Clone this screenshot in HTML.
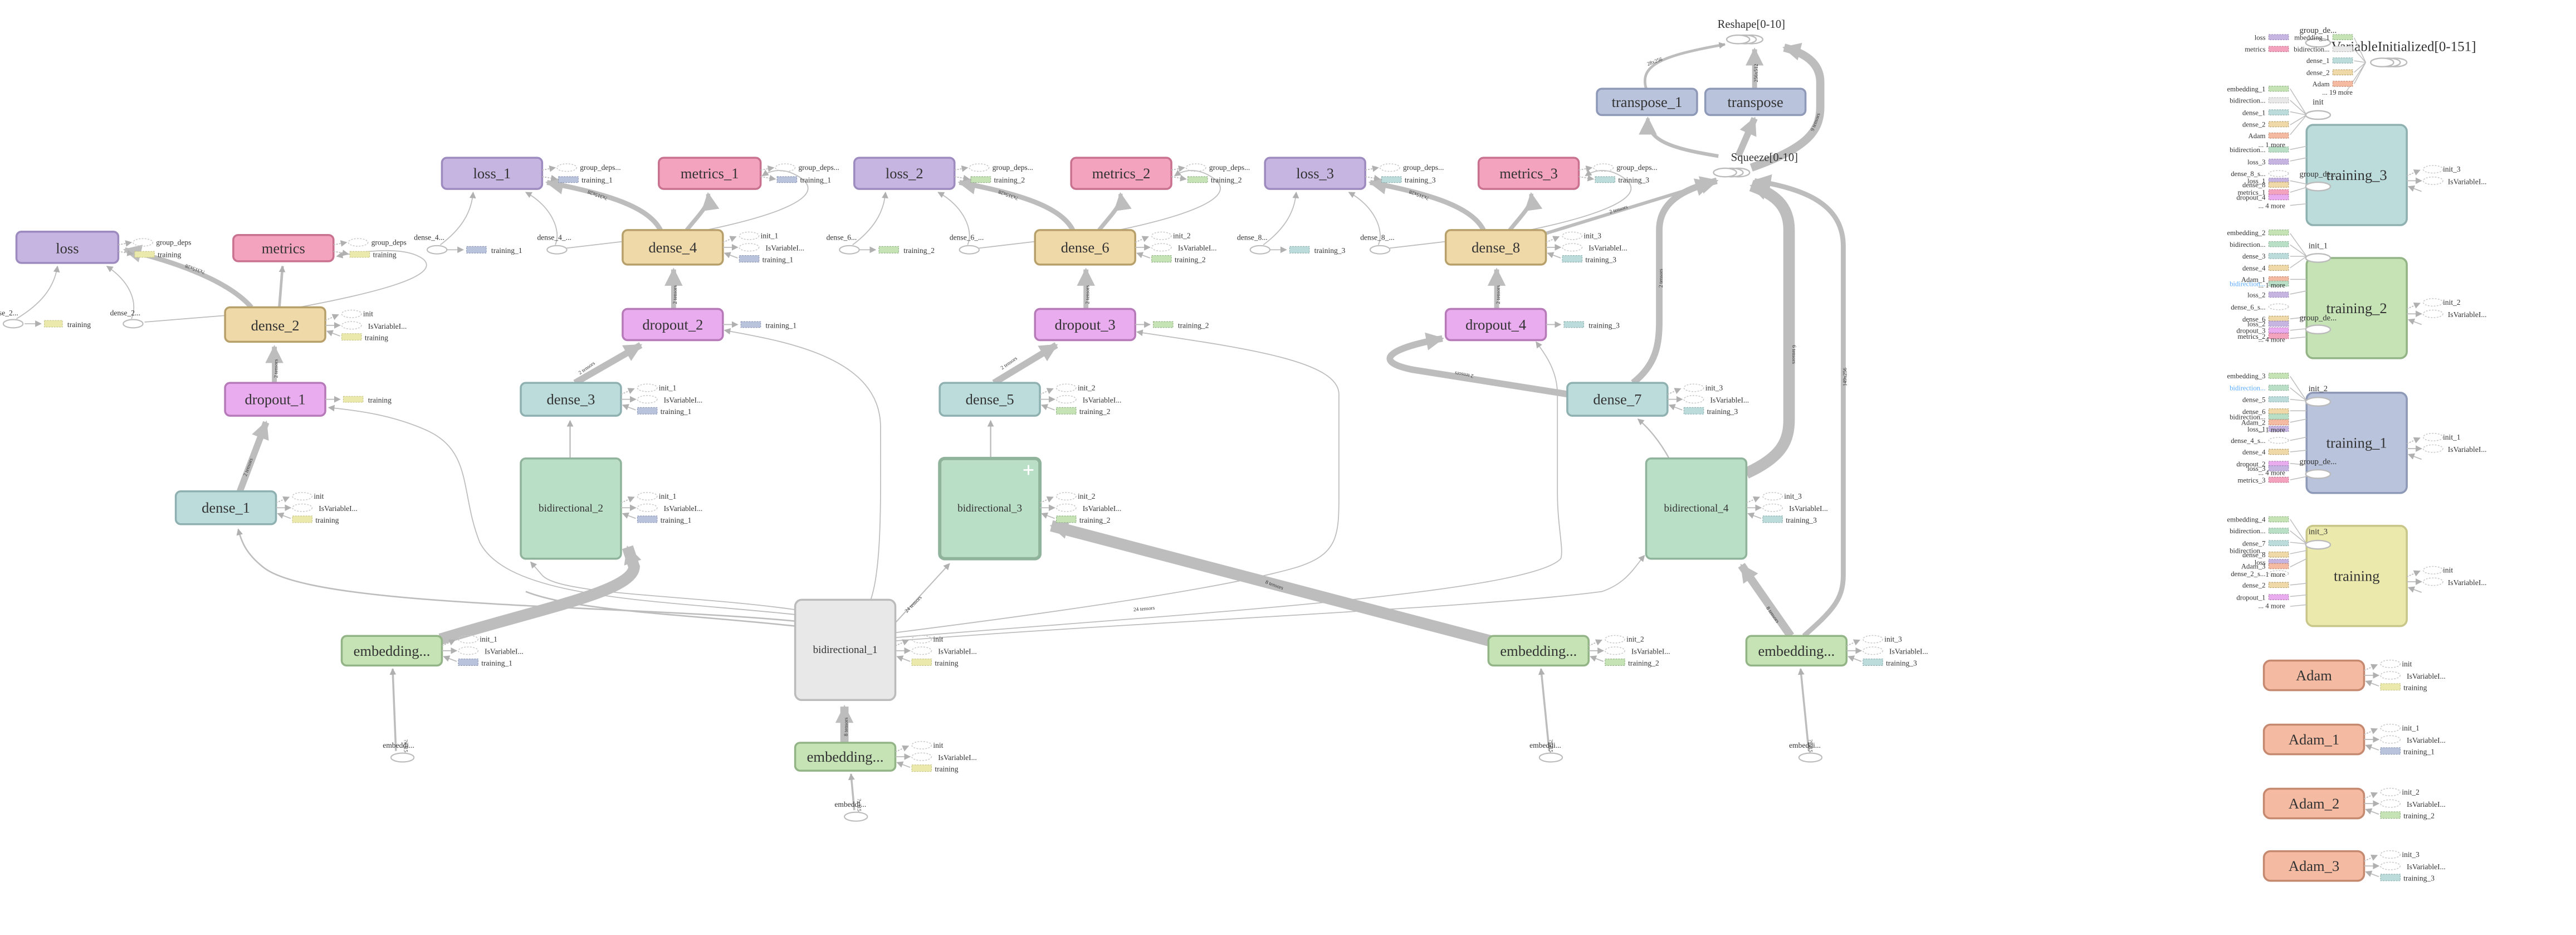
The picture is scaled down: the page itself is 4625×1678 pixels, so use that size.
<!DOCTYPE html>
<html><head><meta charset="utf-8"><style>
html,body{margin:0;padding:0;background:#fff;}
svg{display:block;}
text{font-family:"Liberation Serif",serif;fill:#333;}
.n{font-size:9px;text-anchor:middle;dominant-baseline:central;}
.nb{font-size:6.5px;text-anchor:middle;dominant-baseline:central;}
.s{font-size:4.6px;fill:#222;}
.r{font-size:4.3px;fill:#222;text-anchor:end;}
.el{font-size:3.2px;fill:#777;}
.e{fill:none;stroke:#bdbdbd;}
.de{fill:none;stroke:#c8c8c8;stroke-width:.5;stroke-dasharray:1,.8;}
.rk{stroke-width:.4;stroke-dasharray:1,.6;}
.ty{fill:#ebe9ab;stroke:#c9c68a;} .tb{fill:#b9c3dc;stroke:#8e99b8;} .tg{fill:#c5e3b5;stroke:#93b486;} .tt{fill:#bcdcdc;stroke:#8fb0b0;}
.cp{fill:#c6b5e1;stroke:#9d8bbf;} .cm{fill:#f4a3bf;stroke:#c8728f;} .cn{fill:#efd9a9;stroke:#b8a06b;} .cv{fill:#e9acee;stroke:#b77ab9;} .cs{fill:#f5bba2;stroke:#c58970;} .cx{fill:#e8e8e8;stroke:#bbb;} .cg{fill:#badfc7;stroke:#8fb39b;}
.nd{stroke-width:1.2;}
</style></head><body>
<svg width="4625" height="1678" viewBox="0 0 1568 569" preserveAspectRatio="none" xmlns="http://www.w3.org/2000/svg">
<defs>
<marker id="s" viewBox="0 0 10 10" refX="9" refY="5" markerWidth="4" markerHeight="4" markerUnits="userSpaceOnUse" orient="auto"><path d="M0,0L10,5L0,10z" fill="#b0b0b0"/></marker>
<marker id="L" viewBox="0 0 10 10" refX="9" refY="5" markerWidth="11" markerHeight="11" markerUnits="userSpaceOnUse" orient="auto"><path d="M0,0L10,5L0,10z" fill="#bdbdbd"/></marker>
<g id="a3">
<path d="M0,-3 L8,-6.5" stroke="#bbb" stroke-width=".6" stroke-dasharray="1,.7" marker-end="url(#s)"/>
<path d="M0,0 L9,0" stroke="#bbb" stroke-width=".6" marker-end="url(#s)"/>
<path d="M9,6.5 L1,3.5" stroke="#bbb" stroke-width=".6" marker-end="url(#s)"/>
<ellipse cx="16" cy="-7" rx="6" ry="2.3" class="de"/>
<ellipse cx="16" cy="0" rx="6" ry="2.3" class="de"/>
</g>
<g id="a2">
<path d="M0,-2 L8,-3.5" stroke="#bbb" stroke-width=".6" stroke-dasharray="1,.7" marker-end="url(#s)"/>
<path d="M0,2 L9,3.5" stroke="#bbb" stroke-width=".6" stroke-dasharray="1,.7" marker-end="url(#s)"/>
<ellipse cx="15" cy="-3.5" rx="6" ry="2.3" class="de"/>
</g>
<g id="a1"><path d="M0,0 L9,0" stroke="#bbb" stroke-width=".6" marker-end="url(#s)"/></g>
</defs>

<!-- ============ EDGES ============ -->
<g class="e">
<!-- left group -->
<path d="M146,299 L162,257" stroke-width="4" marker-end="url(#L)"/>
<path d="M167,233 L167,211" stroke-width="3" marker-end="url(#L)"/>
<path d="M153,187 C140,172 110,160 76,152" stroke-width="3" marker-end="url(#L)"/>
<path d="M170,187 L172,162" stroke-width="1.6" marker-end="url(#s)"/>
<path d="M182,187 C230,178 268,168 258,158 C248,150 225,152 205,156" stroke-width=".6" marker-end="url(#s)"/>
<path d="M10,194 C25,185 33,175 35,162" stroke-width=".6" marker-end="url(#s)"/>
<path d="M80,194 C84,185 80,172 65,162" stroke-width=".6" marker-end="url(#s)"/>
<path d="M88,196 L137,192" stroke-width=".6"/>
<path d="M15,197 L25,197" stroke-width=".6" marker-end="url(#s)"/>
<!-- bidir_1 to left things -->
<path d="M484,378 C380,368 190,370 160,345 C150,337 147,330 145,322" stroke-width=".9" marker-end="url(#s)"/>
<path d="M484,381 C420,374 350,372 320,360" stroke-width=".9"/>
<path d="M484,374 C400,365 310,365 292,330 C280,300 288,275 260,262 C240,253 220,250 200,248" stroke-width=".6" marker-end="url(#s)"/>
<path d="M484,371 C420,362 340,362 330,350 L323,342" stroke-width=".6" marker-end="url(#s)"/>
<path d="M530,365 C537,345 536,300 536,260 C536,218 480,208 441,201" stroke-width=".6" marker-end="url(#s)"/>
<path d="M545,385 C600,378 740,360 790,345 C815,337 815,325 815,300 L815,240 C815,220 760,212 692,202" stroke-width=".6" marker-end="url(#s)"/>
<path d="M545,379 L578,343" stroke-width=".7" marker-end="url(#s)"/>
<path d="M545,388 C700,375 930,362 950,340 C952,335 948,320 948,300 L948,240 C948,225 940,215 935,208" stroke-width=".6" marker-end="url(#s)"/>
<path d="M545,390 C700,378 900,370 975,360 C990,355 995,345 1001,338" stroke-width=".6" marker-end="url(#s)"/>
<!-- embeddings -->
<path d="M268,389 C330,370 385,360 386,345 L382,333" stroke-width="7" marker-end="url(#L)"/>
<path d="M514,452 L514,430" stroke-width="5" marker-end="url(#L)"/>
<path d="M907,390 L640,320" stroke-width="7" marker-end="url(#L)"/>
<path d="M1090,387 L1060,344" stroke-width="5" marker-end="url(#L)"/>
<path d="M1098,387 C1115,372 1122,365 1122,350 L1122,150 C1122,125 1100,115 1068,110" stroke-width="3" marker-end="url(#L)"/>
<path d="M241,457 L239,407" stroke-width="1.2" marker-end="url(#s)"/>
<path d="M520,493 L518,471" stroke-width="1.2" marker-end="url(#s)"/>
<path d="M943,457 L938,407" stroke-width="1.2" marker-end="url(#s)"/>
<path d="M1101,457 L1096,407" stroke-width="1.2" marker-end="url(#s)"/>
<!-- bidir to dense -->
<path d="M347,279 L347,256" stroke-width=".8" marker-end="url(#s)"/>
<path d="M603,279 L603,256" stroke-width=".8" marker-end="url(#s)"/>
<path d="M1016,279 C1010,268 1003,260 997,255" stroke-width=".8" marker-end="url(#s)"/>
<path d="M350,233 L390,210" stroke-width="4" marker-end="url(#L)"/>
<path d="M605,233 L643,210" stroke-width="4" marker-end="url(#L)"/>
<path d="M955,240 L860,225 C835,220 845,212 878,206" stroke-width="4" marker-end="url(#L)"/>
<!-- squeeze region -->
<path d="M994,233 C1008,222 1010,210 1010,195 L1010,140 C1010,120 1030,114 1045,110" stroke-width="4" marker-end="url(#L)"/>
<path d="M1063,288 C1085,278 1089,268 1089,255 L1089,140 C1089,125 1080,118 1066,113" stroke-width="7" marker-end="url(#L)"/>
<path d="M941,142 L1042,111" stroke-width="2" marker-end="url(#L)"/>
<path d="M1046,95 C1015,90 1003,85 1003,72" stroke-width="2.2" marker-end="url(#L)"/>
<path d="M1058,95 L1068,72" stroke-width="4" marker-end="url(#L)"/>
<path d="M1066,102 C1100,90 1108,80 1108,65 L1108,50 C1108,38 1098,32 1086,29" stroke-width="5" marker-end="url(#L)"/>
<path d="M1002,54 C998,40 1010,34 1050,27" stroke-width="1.6" marker-end="url(#s)"/>
<path d="M1068,54 L1068,30" stroke-width="3" marker-end="url(#L)"/>
</g>

<!-- top groups (x3) -->
<g id="g1" class="e">
<path d="M410,188 L410,164" stroke-width="3" marker-end="url(#L)"/>
<path d="M402,140 C395,126 370,118 333,111" stroke-width="3" marker-end="url(#L)"/>
<path d="M418,140 C426,130 432,125 431,118" stroke-width="2.5" marker-end="url(#L)"/>
<path d="M425,141 C470,132 505,120 487,108 C478,102 470,103 464,107" stroke-width=".6" marker-end="url(#s)"/>
<path d="M268,149 C280,140 287,130 288,117" stroke-width=".6" marker-end="url(#s)"/>
<path d="M272,152 L282,152" stroke-width=".6" marker-end="url(#s)"/>
<path d="M338,149 C342,140 335,125 320,117" stroke-width=".6" marker-end="url(#s)"/>
<path d="M345,151 L379,147" stroke-width=".6"/>
</g>
<use href="#g1" x="251"/>
<use href="#g1" x="501"/>

<!-- ============ NODES ============ -->
<g class="nd">
<rect x="10" y="141" width="62" height="19" rx="3" class="cp"/>
<rect x="142" y="143" width="61" height="16" rx="3" class="cm"/>
<rect x="137" y="187" width="61" height="21" rx="3" class="cn"/>
<rect x="137" y="233" width="61" height="20" rx="3" class="cv"/>
<rect x="107" y="299" width="61" height="20" rx="3" class="tt"/>
<rect x="269" y="96" width="61" height="19" rx="3" class="cp"/>
<rect x="401" y="96" width="62" height="19" rx="3" class="cm"/>
<rect x="379" y="140" width="61" height="21" rx="3" class="cn"/>
<rect x="379" y="188" width="61" height="19" rx="3" class="cv"/>
<rect x="317" y="233" width="61" height="20" rx="3" class="tt"/>
<rect x="317" y="279" width="61" height="61" rx="3" class="cg"/>
<rect x="520" y="96" width="61" height="19" rx="3" class="cp"/>
<rect x="652" y="96" width="61" height="19" rx="3" class="cm"/>
<rect x="630" y="140" width="61" height="21" rx="3" class="cn"/>
<rect x="630" y="188" width="61" height="19" rx="3" class="cv"/>
<rect x="572" y="233" width="61" height="20" rx="3" class="tt"/>
<rect x="572" y="279" width="61" height="61" rx="3" class="cg" stroke-width="2" stroke="#7a9b85"/>
<rect x="770" y="96" width="61" height="19" rx="3" class="cp"/>
<rect x="900" y="96" width="61" height="19" rx="3" class="cm"/>
<rect x="880" y="140" width="61" height="21" rx="3" class="cn"/>
<rect x="880" y="188" width="61" height="19" rx="3" class="cv"/>
<rect x="954" y="233" width="61" height="20" rx="3" class="tt"/>
<rect x="1002" y="279" width="61" height="61" rx="3" class="cg"/>
<rect x="484" y="365" width="61" height="61" rx="4" class="cx"/>
<rect x="208" y="387" width="61" height="18" rx="3" class="tg"/>
<rect x="484" y="452" width="61" height="17" rx="3" class="tg"/>
<rect x="906" y="387" width="61" height="18" rx="3" class="tg"/>
<rect x="1063" y="387" width="61" height="18" rx="3" class="tg"/>
<rect x="972" y="54" width="61" height="16" rx="3" class="tb"/>
<rect x="1038" y="54" width="61" height="16" rx="3" class="tb"/>
<rect x="1404" y="76" width="61" height="61" rx="4" class="tt"/>
<rect x="1404" y="157" width="61" height="61" rx="4" class="tg"/>
<rect x="1404" y="239" width="61" height="61" rx="4" class="tb"/>
<rect x="1404" y="320" width="61" height="61" rx="4" class="ty"/>
<rect x="1378" y="402" width="61" height="18" rx="4" class="cs"/>
<rect x="1378" y="441" width="61" height="18" rx="4" class="cs"/>
<rect x="1378" y="480" width="61" height="18" rx="4" class="cs"/>
<rect x="1378" y="518" width="61" height="18" rx="4" class="cs"/>
</g>
<path d="M626,283 L626,289 M623,286 L629,286" stroke="#fff" stroke-width="1"/>

<g>
<text class="n" x="41" y="151">loss</text>
<text class="n" x="172.5" y="151">metrics</text>
<text class="n" x="167.5" y="198">dense_2</text>
<text class="n" x="167.5" y="243">dropout_1</text>
<text class="n" x="137.5" y="309">dense_1</text>
<text class="n" x="299.5" y="105.5">loss_1</text>
<text class="n" x="432" y="105.5">metrics_1</text>
<text class="n" x="409.5" y="150.5">dense_4</text>
<text class="n" x="409.5" y="197.5">dropout_2</text>
<text class="n" x="347.5" y="243">dense_3</text>
<text class="nb" x="347.5" y="309.5">bidirectional_2</text>
<text class="n" x="550.5" y="105.5">loss_2</text>
<text class="n" x="682.5" y="105.5">metrics_2</text>
<text class="n" x="660.5" y="150.5">dense_6</text>
<text class="n" x="660.5" y="197.5">dropout_3</text>
<text class="n" x="602.5" y="243">dense_5</text>
<text class="nb" x="602.5" y="309.5">bidirectional_3</text>
<text class="n" x="800.5" y="105.5">loss_3</text>
<text class="n" x="930.5" y="105.5">metrics_3</text>
<text class="n" x="910.5" y="150.5">dense_8</text>
<text class="n" x="910.5" y="197.5">dropout_4</text>
<text class="n" x="984.5" y="243">dense_7</text>
<text class="nb" x="1032.5" y="309.5">bidirectional_4</text>
<text class="nb" x="514.5" y="395.5">bidirectional_1</text>
<text class="n" x="238.5" y="396">embedding...</text>
<text class="n" x="514.5" y="460.5">embedding...</text>
<text class="n" x="936.5" y="396">embedding...</text>
<text class="n" x="1093.5" y="396">embedding...</text>
<text class="n" x="1002.5" y="62">transpose_1</text>
<text class="n" x="1068.5" y="62">transpose</text>
<text class="n" x="1434.5" y="106.5">training_3</text>
<text class="n" x="1434.5" y="187.5">training_2</text>
<text class="n" x="1434.5" y="269.5">training_1</text>
<text class="n" x="1434.5" y="350.5">training</text>
<text class="n" x="1408.5" y="411">Adam</text>
<text class="n" x="1408.5" y="450">Adam_1</text>
<text class="n" x="1408.5" y="489">Adam_2</text>
<text class="n" x="1408.5" y="527">Adam_3</text>
</g>

<!-- Squeeze / Reshape -->
<g fill="none" stroke="#bbb" stroke-width=".8">
<ellipse cx="1062" cy="24" rx="7" ry="2.6"/><ellipse cx="1066" cy="24" rx="7" ry="2.6"/><ellipse cx="1058" cy="24" rx="7" ry="2.6" fill="#fff"/>
<ellipse cx="1058" cy="105" rx="7" ry="2.6"/><ellipse cx="1054" cy="105" rx="7" ry="2.6"/><ellipse cx="1050" cy="105" rx="7" ry="2.6" fill="#fff"/>
<ellipse cx="1458" cy="38" rx="7" ry="2.6"/><ellipse cx="1454" cy="38" rx="7" ry="2.6"/><ellipse cx="1450" cy="38" rx="7" ry="2.6" fill="#fff"/>
</g>
<text x="1066" y="17" style="font-size:7px;text-anchor:middle">Reshape[0-10]</text>
<text x="1074" y="98" style="font-size:7px;text-anchor:middle">Squeeze[0-10]</text>
<text x="1419" y="31" style="font-size:8.5px">VariableInitialized[0-151]</text>

<!-- loss input ellipses -->
<g fill="#fff" stroke="#bbb" stroke-width=".7">
<ellipse cx="8" cy="197" rx="6" ry="2.5"/><ellipse cx="81" cy="197" rx="6" ry="2.5"/>
<ellipse cx="266" cy="152" rx="6" ry="2.5"/><ellipse cx="339" cy="152" rx="6" ry="2.5"/>
<ellipse cx="517" cy="152" rx="6" ry="2.5"/><ellipse cx="590" cy="152" rx="6" ry="2.5"/>
<ellipse cx="767" cy="152" rx="6" ry="2.5"/><ellipse cx="840" cy="152" rx="6" ry="2.5"/>
<ellipse cx="245" cy="461" rx="7" ry="2.7"/><ellipse cx="521" cy="497" rx="7" ry="2.7"/>
<ellipse cx="944" cy="461" rx="7" ry="2.7"/><ellipse cx="1102" cy="461" rx="7" ry="2.7"/>
</g>
<g class="s">
<text x="-3" y="192">nse_2...</text><text x="67" y="192">dense_2...</text>
<text x="252" y="146">dense_4...</text><text x="327" y="146">dense_4_...</text>
<text x="503" y="146">dense_6...</text><text x="578" y="146">dense_6_...</text>
<text x="753" y="146">dense_8...</text><text x="828" y="146">dense_8_...</text>
<text x="233" y="455">embeddi...</text><text x="508" y="491">embeddi...</text>
<text x="931" y="455">embeddi...</text><text x="1089" y="455">embeddi...</text>
</g>
<g class="rk">
<rect x="27" y="195" width="11" height="4" class="ty"/>
<rect x="284" y="150" width="12" height="4" class="tb"/>
<rect x="535" y="150" width="12" height="4" class="tg"/>
<rect x="785" y="150" width="12" height="4" class="tt"/>
</g>
<g class="s"><text x="41" y="199">training</text><text x="299" y="154">training_1</text><text x="550" y="154">training_2</text><text x="800" y="154">training_3</text></g>

<!-- annotations 3-row -->
<use href="#a3" x="168" y="309"/><use href="#a3" x="198" y="198"/>
<use href="#a3" x="378" y="243"/><use href="#a3" x="378" y="309"/><use href="#a3" x="440" y="150.5"/>
<use href="#a3" x="633" y="243"/><use href="#a3" x="633" y="309"/><use href="#a3" x="691" y="150.5"/>
<use href="#a3" x="1015" y="243"/><use href="#a3" x="1063" y="309"/><use href="#a3" x="941" y="150.5"/>
<use href="#a3" x="545" y="396"/><use href="#a3" x="269" y="396"/><use href="#a3" x="545" y="460.5"/>
<use href="#a3" x="967" y="396"/><use href="#a3" x="1124" y="396"/>
<use href="#a3" x="1439" y="411"/><use href="#a3" x="1439" y="450"/><use href="#a3" x="1439" y="489"/><use href="#a3" x="1439" y="527"/>
<use href="#a3" x="1465" y="110"/><use href="#a3" x="1465" y="191"/><use href="#a3" x="1465" y="273"/><use href="#a3" x="1465" y="354"/>
<g class="rk">
<rect x="178" y="314" width="12" height="4" class="ty"/><rect x="208" y="203" width="12" height="4" class="ty"/>
<rect x="388" y="248" width="12" height="4" class="tb"/><rect x="388" y="314" width="12" height="4" class="tb"/><rect x="450" y="155.5" width="12" height="4" class="tb"/>
<rect x="643" y="248" width="12" height="4" class="tg"/><rect x="643" y="314" width="12" height="4" class="tg"/><rect x="701" y="155.5" width="12" height="4" class="tg"/>
<rect x="1025" y="248" width="12" height="4" class="tt"/><rect x="1073" y="314" width="12" height="4" class="tt"/><rect x="951" y="155.5" width="12" height="4" class="tt"/>
<rect x="555" y="401" width="12" height="4" class="ty"/><rect x="279" y="401" width="12" height="4" class="tb"/><rect x="555" y="465.5" width="12" height="4" class="ty"/>
<rect x="977" y="401" width="12" height="4" class="tg"/><rect x="1134" y="401" width="12" height="4" class="tt"/>
<rect x="1449" y="416" width="12" height="4" class="ty"/><rect x="1449" y="455" width="12" height="4" class="tb"/><rect x="1449" y="494" width="12" height="4" class="tg"/><rect x="1449" y="532" width="12" height="4" class="tt"/>
</g>
<g class="s">
<text x="191" y="303.5">init</text><text x="194" y="311">IsVariableI...</text><text x="192" y="318">training</text>
<text x="221" y="192.5">init</text><text x="224" y="200">IsVariableI...</text><text x="222" y="207">training</text>
<text x="401" y="237.5">init_1</text><text x="404" y="245">IsVariableI...</text><text x="402" y="252">training_1</text>
<text x="401" y="303.5">init_1</text><text x="404" y="311">IsVariableI...</text><text x="402" y="318">training_1</text>
<text x="463" y="145">init_1</text><text x="466" y="152.5">IsVariableI...</text><text x="464" y="159.5">training_1</text>
<text x="656" y="237.5">init_2</text><text x="659" y="245">IsVariableI...</text><text x="657" y="252">training_2</text>
<text x="656" y="303.5">init_2</text><text x="659" y="311">IsVariableI...</text><text x="657" y="318">training_2</text>
<text x="714" y="145">init_2</text><text x="717" y="152.5">IsVariableI...</text><text x="715" y="159.5">training_2</text>
<text x="1038" y="237.5">init_3</text><text x="1041" y="245">IsVariableI...</text><text x="1039" y="252">training_3</text>
<text x="1086" y="303.5">init_3</text><text x="1089" y="311">IsVariableI...</text><text x="1087" y="318">training_3</text>
<text x="964" y="145">init_3</text><text x="967" y="152.5">IsVariableI...</text><text x="965" y="159.5">training_3</text>
<text x="568" y="390.5">init</text><text x="571" y="398">IsVariableI...</text><text x="569" y="405">training</text>
<text x="292" y="390.5">init_1</text><text x="295" y="398">IsVariableI...</text><text x="293" y="405">training_1</text>
<text x="568" y="455">init</text><text x="571" y="462.5">IsVariableI...</text><text x="569" y="469.5">training</text>
<text x="990" y="390.5">init_2</text><text x="993" y="398">IsVariableI...</text><text x="991" y="405">training_2</text>
<text x="1147" y="390.5">init_3</text><text x="1150" y="398">IsVariableI...</text><text x="1148" y="405">training_3</text>
<text x="1462" y="405.5">init</text><text x="1465" y="413">IsVariableI...</text><text x="1463" y="420">training</text>
<text x="1462" y="444.5">init_1</text><text x="1465" y="452">IsVariableI...</text><text x="1463" y="459">training_1</text>
<text x="1462" y="483.5">init_2</text><text x="1465" y="491">IsVariableI...</text><text x="1463" y="498">training_2</text>
<text x="1462" y="521.5">init_3</text><text x="1465" y="529">IsVariableI...</text><text x="1463" y="536">training_3</text>
<text x="1487" y="104.5">init_3</text><text x="1490" y="112">IsVariableI...</text>
<text x="1487" y="185.5">init_2</text><text x="1490" y="193">IsVariableI...</text>
<text x="1487" y="267.5">init_1</text><text x="1490" y="275">IsVariableI...</text>
<text x="1487" y="348.5">init</text><text x="1490" y="356">IsVariableI...</text>
</g>

<!-- 2-row annotations (loss/metrics) -->
<use href="#a2" x="72" y="151"/><use href="#a2" x="203" y="151"/>
<use href="#a2" x="330" y="105.5"/><use href="#a2" x="463" y="105.5"/>
<use href="#a2" x="581" y="105.5"/><use href="#a2" x="713" y="105.5"/>
<use href="#a2" x="831" y="105.5"/><use href="#a2" x="961" y="105.5"/>
<g class="rk">
<rect x="82" y="153" width="12" height="3.6" class="ty"/><rect x="213" y="153" width="12" height="3.6" class="ty"/>
<rect x="340" y="107.5" width="12" height="3.6" class="tb"/><rect x="473" y="107.5" width="12" height="3.6" class="tb"/>
<rect x="591" y="107.5" width="12" height="3.6" class="tg"/><rect x="723" y="107.5" width="12" height="3.6" class="tg"/>
<rect x="841" y="107.5" width="12" height="3.6" class="tt"/><rect x="971" y="107.5" width="12" height="3.6" class="tt"/>
</g>
<g class="s">
<text x="95" y="149">group_deps</text><text x="96" y="156.5">training</text>
<text x="226" y="149">group_deps</text><text x="227" y="156.5">training</text>
<text x="353" y="103.5">group_deps...</text><text x="354" y="111">training_1</text>
<text x="486" y="103.5">group_deps...</text><text x="487" y="111">training_1</text>
<text x="604" y="103.5">group_deps...</text><text x="605" y="111">training_2</text>
<text x="736" y="103.5">group_deps...</text><text x="737" y="111">training_2</text>
<text x="854" y="103.5">group_deps...</text><text x="855" y="111">training_3</text>
<text x="984" y="103.5">group_deps...</text><text x="985" y="111">training_3</text>
</g>

<!-- dropout annotations -->
<use href="#a1" x="198" y="243"/><use href="#a1" x="440" y="197.5"/><use href="#a1" x="691" y="197.5"/><use href="#a1" x="941" y="197.5"/>
<g class="rk">
<rect x="209" y="241.2" width="12" height="3.6" class="ty"/><rect x="451" y="195.7" width="12" height="3.6" class="tb"/>
<rect x="702" y="195.7" width="12" height="3.6" class="tg"/><rect x="952" y="195.7" width="12" height="3.6" class="tt"/>
</g>
<g class="s"><text x="224" y="245">training</text><text x="466" y="199.5">training_1</text><text x="717" y="199.5">training_2</text><text x="967" y="199.5">training_3</text></g>

<!-- edge labels -->
<g class="el">
<text x="1003" y="40" transform="rotate(-20 1003 40)">28x256</text>
<text x="1070" y="50" transform="rotate(-90 1070 50)">256x512</text>
<text x="1104" y="80" transform="rotate(-70 1104 80)">9 tensors</text>
<text x="1012" y="175" transform="rotate(-90 1012 175)">2 tensors</text>
<text x="1091" y="210" transform="rotate(90 1091 210)">6 tensors</text>
<text x="1124" y="235" transform="rotate(-90 1124 235)">149x256</text>
<text x="980" y="130" transform="rotate(-17 980 130)">2 tensors</text>
<text x="1075" y="370" transform="rotate(55 1075 370)">8 tensors</text>
<text x="770" y="355" transform="rotate(20 770 355)">8 tensors</text>
<text x="897" y="228" transform="rotate(190 897 228)">2 tensors</text>
<text x="516" y="448" transform="rotate(-90 516 448)">8 tensors</text>
<text x="552" y="373" transform="rotate(-45 552 373)">24 tensors</text>
<text x="690" y="372" transform="rotate(-5 690 372)">24 tensors</text>
<text x="150" y="290" transform="rotate(-70 150 290)">2 tensors</text>
<text x="169" y="230" transform="rotate(-90 169 230)">2 tensors</text>
<text x="412" y="185" transform="rotate(-90 412 185)">2 tensors</text>
<text x="663" y="185" transform="rotate(-90 663 185)">2 tensors</text>
<text x="913" y="185" transform="rotate(-90 913 185)">2 tensors</text>
<text x="610" y="225" transform="rotate(-35 610 225)">2 tensors</text>
<text x="353" y="228" transform="rotate(-35 353 228)">2 tensors</text>
<text x="125" y="165" transform="rotate(200 125 165)">?x315x28</text>
<text x="370" y="120" transform="rotate(200 370 120)">?x315x28</text>
<text x="620" y="120" transform="rotate(200 620 120)">?x315x28</text>
<text x="870" y="120" transform="rotate(200 870 120)">?x315x28</text>
<text x="246" y="450" transform="rotate(90 246 450)">?x315</text>
<text x="522" y="486" transform="rotate(90 522 486)">?x315</text>
<text x="943" y="450" transform="rotate(90 943 450)">?x315</text>
<text x="1101" y="450" transform="rotate(90 1101 450)">?x315</text>
</g>

<!-- ============ RIGHT PANEL LISTS ============ -->
<g class="e" stroke-width=".5">
<path d="M1433,23 L1440,38 M1433,30 L1440,38 M1433,37 L1440,38 M1433,44 L1440,38 M1433,51 L1440,38 M1428,56 L1440,38"/>
<path d="M1394,54 L1404,70 M1394,61 L1404,70 M1394,68 L1404,70 M1394,76 L1404,70 M1394,82 L1404,70 M1394,91 L1404,89 M1394,98 L1404,96 M1394,110 L1404,112 M1394,117 L1404,114 M1394,125 L1404,124"/>
<path d="M1394,142 L1404,156 M1394,149 L1404,156 M1394,156 L1404,156 M1394,163 L1404,156 M1394,170 L1404,170 M1394,179 L1404,177 M1394,194 L1404,193 M1394,201 L1404,200 M1394,206 L1404,205"/>
<path d="M1394,229 L1404,244 M1394,236 L1404,244 M1394,243 L1404,244 M1394,250 L1404,250 M1394,257 L1404,255 M1394,268 L1404,266 M1394,275 L1404,274 M1394,282 L1404,283 M1394,292 L1404,290"/>
<path d="M1394,316 L1404,331 M1394,323 L1404,331 M1394,330 L1404,331 M1394,337 L1404,335 M1394,345 L1404,340 M1394,356 L1404,355 M1394,363 L1404,362 M1394,369 L1404,368"/>
</g>
<g fill="#fff" stroke="#bbb" stroke-width=".8">
<ellipse cx="1411" cy="26" rx="7.5" ry="2.6"/>
<ellipse cx="1411" cy="70" rx="7.5" ry="2.6"/><ellipse cx="1411" cy="113.5" rx="7.5" ry="2.6"/>
<ellipse cx="1411" cy="157" rx="7.5" ry="2.6"/><ellipse cx="1411" cy="200.5" rx="7.5" ry="2.6"/>
<ellipse cx="1411" cy="244.5" rx="7.5" ry="2.6"/><ellipse cx="1411" cy="288.5" rx="7.5" ry="2.6"/>
<ellipse cx="1411" cy="331.5" rx="7.5" ry="2.6"/>
</g>
<g class="s" style="text-anchor:middle;font-size:5px">
<text x="1411" y="20">group_de...</text>
<text x="1411" y="63.5">init</text><text x="1411" y="107.5">group_de...</text>
<text x="1411" y="151">init_1</text><text x="1411" y="195">group_de...</text>
<text x="1411" y="238">init_2</text><text x="1411" y="282.5">group_de...</text>
<text x="1411" y="325">init_3</text>
</g>
<g class="rk">
<rect x="1381" y="21" width="12" height="3.2" class="cp"/><rect x="1381" y="28.2" width="12" height="3.2" class="cm"/>
<rect x="1420" y="21" width="12" height="3.2" class="tg"/><rect x="1420" y="28.2" width="12" height="3.2" class="cx"/>
<rect x="1420" y="35.2" width="12" height="3.2" class="tt"/><rect x="1420" y="42.4" width="12" height="3.2" class="cn"/>
<rect x="1420" y="49.4" width="12" height="3.2" class="cs"/>

<rect x="1381" y="52.4" width="12" height="3.2" class="tg"/><rect x="1381" y="59.4" width="12" height="3.2" class="cx"/>
<rect x="1381" y="66.8" width="12" height="3.2" class="tt"/><rect x="1381" y="74" width="12" height="3.2" class="cn"/>
<rect x="1381" y="80.9" width="12" height="3.2" class="cs"/><rect x="1381" y="89.4" width="12" height="3.2" class="cg"/>
<rect x="1381" y="96.8" width="12" height="3.2" class="cp"/><rect x="1381" y="108.4" width="12" height="3.2" class="cp"/>
<rect x="1381" y="110.8" width="12" height="3.2" class="cn"/><rect x="1381" y="115.4" width="12" height="3.2" class="cm"/>
<rect x="1381" y="118.4" width="12" height="3.2" class="cv"/>

<rect x="1381" y="139.9" width="12" height="3.2" class="tg"/><rect x="1381" y="147" width="12" height="3.2" class="cg"/>
<rect x="1381" y="154.2" width="12" height="3.2" class="tt"/><rect x="1381" y="161.4" width="12" height="3.2" class="cn"/>
<rect x="1381" y="168.4" width="12" height="3.2" class="cs"/><rect x="1381" y="171" width="12" height="3.2" class="cg"/>
<rect x="1381" y="177.7" width="12" height="3.2" class="cp"/><rect x="1381" y="192.4" width="12" height="3.2" class="cn"/>
<rect x="1381" y="195.4" width="12" height="3.2" class="cp"/><rect x="1381" y="199.4" width="12" height="3.2" class="cv"/>
<rect x="1381" y="202.9" width="12" height="3.2" class="cm"/>

<rect x="1381" y="227.1" width="12" height="3.2" class="tg"/><rect x="1381" y="234.4" width="12" height="3.2" class="cg"/>
<rect x="1381" y="241.4" width="12" height="3.2" class="tt"/><rect x="1381" y="248.8" width="12" height="3.2" class="cn"/>
<rect x="1381" y="251.9" width="12" height="3.2" class="cg"/><rect x="1381" y="255.4" width="12" height="3.2" class="cs"/>
<rect x="1381" y="259.4" width="12" height="3.2" class="cp"/><rect x="1381" y="273.4" width="12" height="3.2" class="cn"/>
<rect x="1381" y="280.7" width="12" height="3.2" class="cv"/><rect x="1381" y="283.4" width="12" height="3.2" class="cp"/>
<rect x="1381" y="290.4" width="12" height="3.2" class="cm"/>

<rect x="1381" y="314.4" width="12" height="3.2" class="tg"/><rect x="1381" y="321.4" width="12" height="3.2" class="cg"/>
<rect x="1381" y="328.9" width="12" height="3.2" class="tt"/><rect x="1381" y="335.9" width="12" height="3.2" class="cn"/>
<rect x="1381" y="340.4" width="12" height="3.2" class="cp"/><rect x="1381" y="342.9" width="12" height="3.2" class="cs"/>
<rect x="1381" y="354.4" width="12" height="3.2" class="cn"/><rect x="1381" y="361.8" width="12" height="3.2" class="cv"/>
</g>
<g class="de">
<ellipse cx="1387" cy="105.6" rx="6" ry="1.8"/><ellipse cx="1387" cy="186.7" rx="6" ry="1.8"/>
<ellipse cx="1387" cy="268" rx="6" ry="1.8"/><ellipse cx="1387" cy="349" rx="6" ry="1.8"/>
</g>
<g class="r">
<text x="1379" y="24.2">loss</text><text x="1379" y="31.4">metrics</text>
<text x="1418" y="24.2">mbedding_1</text><text x="1418" y="31.4">bidirection...</text><text x="1418" y="38.4">dense_1</text><text x="1418" y="45.6">dense_2</text><text x="1418" y="52.6">Adam</text><text x="1432" y="57.6">... 19 more</text>

<text x="1379" y="55.6">embedding_1</text><text x="1379" y="62.6">bidirection...</text><text x="1379" y="70">dense_1</text><text x="1379" y="77.2">dense_2</text><text x="1379" y="84.1">Adam</text><text x="1391" y="89.6">... 1 more</text><text x="1379" y="92.6">bidirection...</text><text x="1379" y="100">loss_3</text><text x="1379" y="107.2">dense_8_s...</text><text x="1379" y="111.6">loss_1</text><text x="1379" y="114">dense_8</text><text x="1379" y="118.6">metrics_1</text><text x="1379" y="121.6">dropout_4</text><text x="1391" y="126.6">... 4 more</text>

<text x="1379" y="143.1">embedding_2</text><text x="1379" y="150.2">bidirection...</text><text x="1379" y="157.4">dense_3</text><text x="1379" y="164.6">dense_4</text><text x="1379" y="171.6">Adam_1</text><text x="1379" y="174.1" style="fill:#5aabff">bidirection...</text><text x="1391" y="175">... 1 more</text><text x="1379" y="180.9">loss_2</text><text x="1379" y="188.3">dense_6_s...</text><text x="1379" y="195.6">dense_6</text><text x="1379" y="198.6">loss_2</text><text x="1379" y="202.6">dropout_3</text><text x="1379" y="206.1">metrics_2</text><text x="1391" y="208">... 4 more</text>

<text x="1379" y="230.3">embedding_3</text><text x="1379" y="237.6" style="fill:#5aabff">bidirection...</text><text x="1379" y="244.6">dense_5</text><text x="1379" y="252">dense_6</text><text x="1379" y="255.1">bidirection...</text><text x="1379" y="258.6">Adam_2</text><text x="1379" y="262.6">loss_1</text><text x="1391" y="263">... 1 more</text><text x="1379" y="269.6">dense_4_s...</text><text x="1379" y="276.6">dense_4</text><text x="1379" y="283.9">dropout_2</text><text x="1379" y="286.6">loss_3</text><text x="1391" y="289.1">... 4 more</text><text x="1379" y="293.6">metrics_3</text>

<text x="1379" y="317.6">embedding_4</text><text x="1379" y="324.6">bidirection...</text><text x="1379" y="332.1">dense_7</text><text x="1379" y="336.6">bidirection...</text><text x="1379" y="339.1">dense_8</text><text x="1379" y="343.6">loss</text><text x="1379" y="346.1">Adam_3</text><text x="1379" y="350.6">dense_2_s...</text><text x="1391" y="351">1 more</text><text x="1379" y="357.6">dense_2</text><text x="1379" y="365">dropout_1</text><text x="1391" y="370.1">... 4 more</text>
</g>
</svg>
</body></html>
